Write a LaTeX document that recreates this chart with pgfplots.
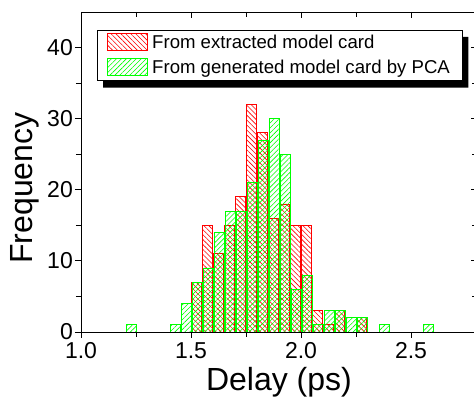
\documentclass[border=0pt]{standalone}
\usepackage{pgfplots}
\pgfplotsset{compat=1.18}
\usepackage{fontspec}
\setmainfont{Liberation Sans}
\usetikzlibrary{patterns.meta}
\definecolor{myred}{RGB}{255,0,0}
\definecolor{mygreen}{RGB}{0,255,0}

\begin{document}
\begin{tikzpicture}
\useasboundingbox (-81pt,-66pt) rectangle (393pt,332pt);
\clip (-81pt,-66pt) rectangle (393pt,332pt);
\begin{axis}[
  at={(0,0)}, anchor=south west,
  width=396pt, height=320pt, scale only axis,
  xmin=1, xmax=2.8, ymin=0, ymax=45,
  xtick={1,1.5,2,2.5}, xticklabels={1.0,1.5,2.0,2.5},
  ytick={0,10,20,30,40},
  minor x tick num=1, minor y tick num=1,
  tick align=outside, xtick pos=left, ytick pos=left,
  major tick length=6pt, minor tick length=5pt,
  axis line style={line width=0.8pt, black},
  every tick/.style={black, line width=0.8pt},
  every minor tick/.style={black, line width=0.8pt},
  /pgf/number format/assume math mode=true,
  tick label style={font=\fontsize{23}{25}\selectfont},
  xticklabel style={inner sep=4pt},
  yticklabel style={inner sep=2pt},
  xlabel={Delay (ps)},
  ylabel={Frequency},
  label style={font=\fontsize{32}{34}\selectfont},
  xlabel style={at={(axis description cs:0.5,0)}, anchor=base, yshift=-59pt},
  ylabel style={at={(axis description cs:0,0.45)}, anchor=base, yshift=48pt},
  legend image code/.code={\draw[#1] (0pt,-8pt) rectangle (40pt,9pt);},
  legend style={name=leg, at={(0.0404,0.944)}, anchor=north west, draw=black, line width=0.8pt,
    fill=white, font=\fontsize{18.6}{20}\selectfont, inner xsep=10pt, inner ysep=3pt,
    row sep=6pt, column sep=2pt, cells={anchor=west}},
]
\addplot[ybar, bar width=10pt, bar shift=0pt, draw=myred, line width=0.8pt,
  pattern={Lines[angle=-45,distance=3.5pt,line width=0.6pt]}, pattern color=myred]
  coordinates {(1.525,7) (1.575,15) (1.625,11) (1.675,15) (1.725,19) (1.775,32)
  (1.825,28) (1.875,16) (1.925,18) (1.975,15) (2.025,15) (2.075,3) (2.125,1)
  (2.175,3) (2.275,2)};
\addlegendentry{From extracted model card}
\addplot[ybar, bar width=10pt, bar shift=0.8pt, draw=mygreen, line width=0.8pt,
  pattern={Lines[angle=45,distance=3.5pt,line width=0.6pt]}, pattern color=mygreen]
  coordinates {(1.225,1) (1.425,1) (1.475,4) (1.525,7) (1.575,9) (1.625,14)
  (1.675,17) (1.725,17) (1.775,21) (1.825,27) (1.875,30) (1.925,25) (1.975,6)
  (2.025,8) (2.075,1) (2.125,3) (2.175,3) (2.225,2) (2.275,2) (2.375,1) (2.575,1)};
\addlegendentry{From generated model card by PCA}
\end{axis}
\fill[black] ([xshift=6pt,yshift=-7pt]leg.south west) -- ([xshift=6pt,yshift=-7pt]leg.south east)
  -- ([xshift=6pt,yshift=-7pt]leg.north east) -- ([yshift=-7pt]leg.north east)
  -- (leg.south east) -- ([xshift=6pt]leg.south west) -- cycle;
\begin{axis}[
  at={(0,0)}, anchor=south west,
  width=396pt, height=320pt, scale only axis,
  xmin=1, xmax=2.8, ymin=0, ymax=45,
  xtick={1,1.5,2,2.5}, ytick={0,10,20,30,40},
  minor x tick num=1, minor y tick num=1,
  tick align=inside, xtick pos=right, ytick pos=right,
  xticklabels={}, yticklabels={},
  major tick length=6pt, minor tick length=5pt,
  axis line style={line width=0.8pt, black},
  every tick/.style={black, line width=0.8pt},
  every minor tick/.style={black, line width=0.8pt},
]
\end{axis}
\end{tikzpicture}
\end{document}
